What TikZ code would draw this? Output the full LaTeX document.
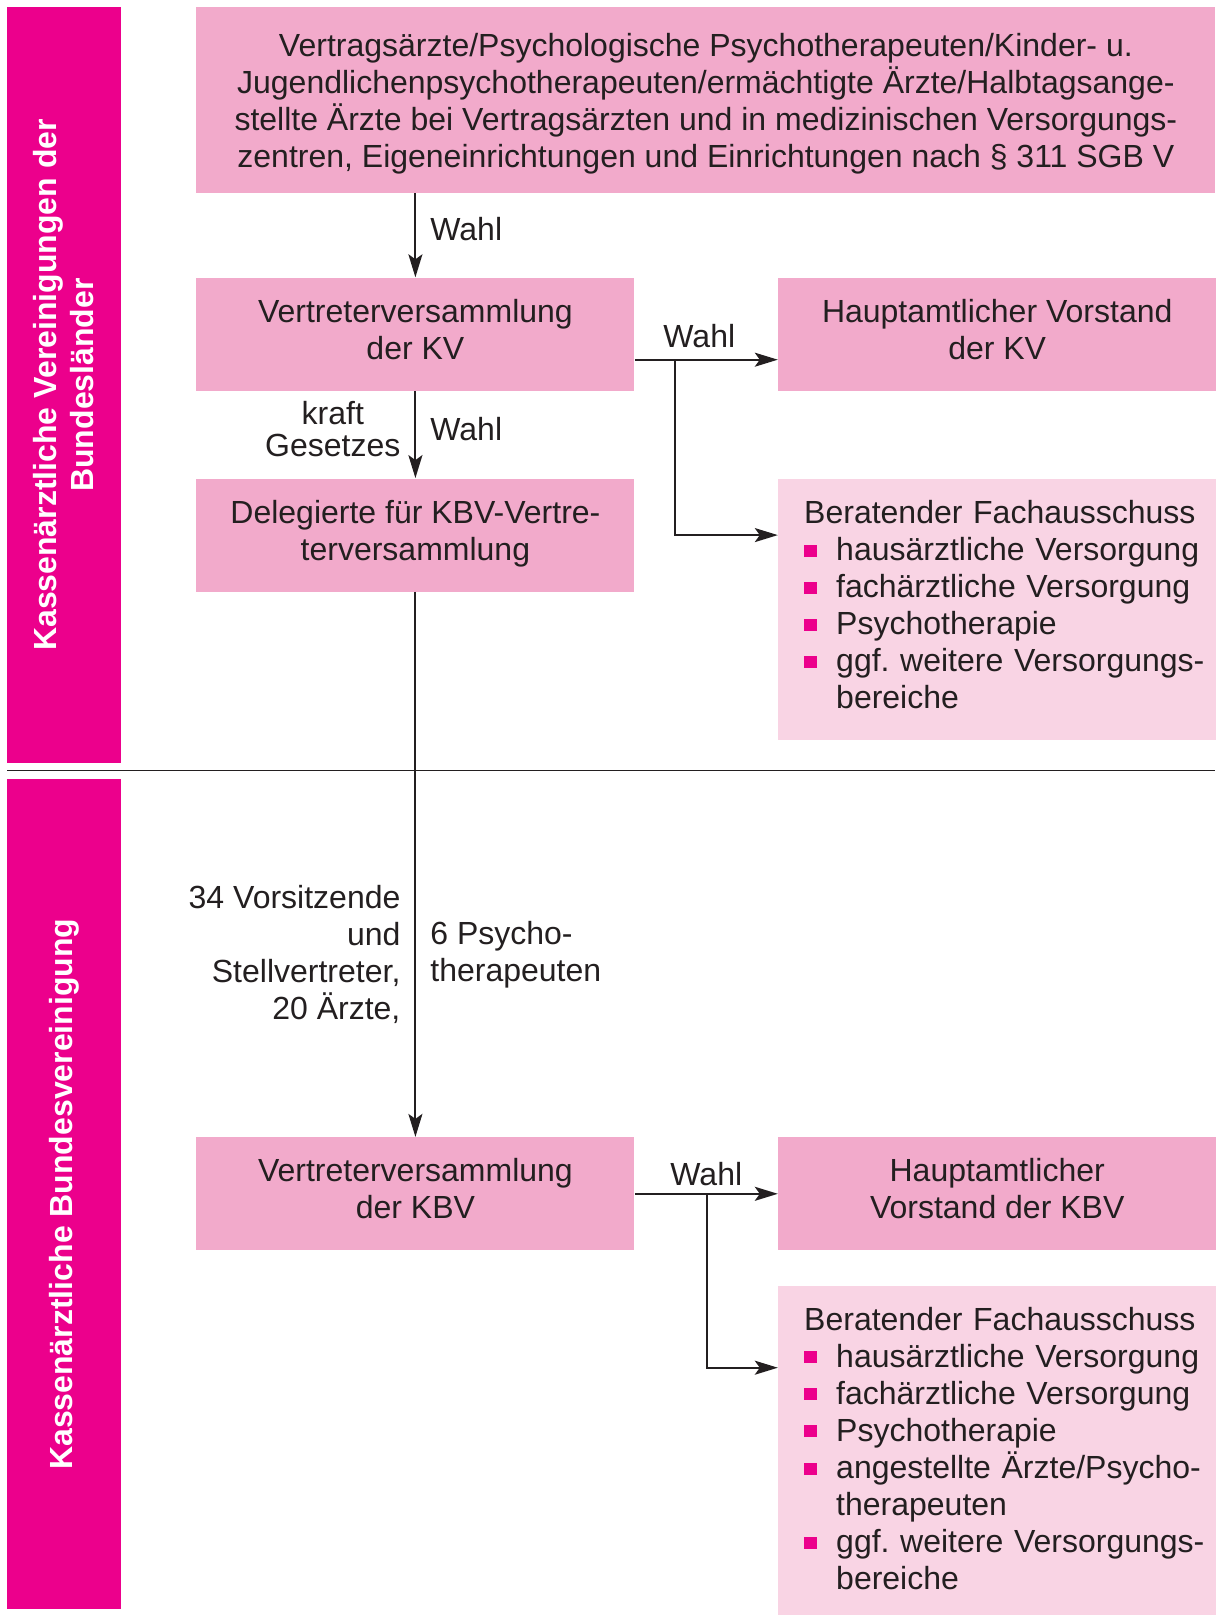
\documentclass[tikz,border=0pt]{standalone}
\usepackage{fontspec}
\setmainfont{Liberation Sans}
\usepackage{xcolor}
\usepackage{tikz}
\usetikzlibrary{positioning, arrows.meta}

\definecolor{kvmagenta}{RGB}{236,0,140}
\definecolor{kvpink}{RGB}{242,170,203}
\definecolor{kvlight}{RGB}{249,212,228}
\definecolor{kvtext}{RGB}{35,31,32}
\newcommand{\kvbullet}{\makebox[16pt][l]{\textcolor{kvmagenta}{\rule[1.8pt]{6.3pt}{6.3pt}}}}

\begin{document}
\begin{tikzpicture}[
    every node/.style={font=\fontsize{16}{18.5}\selectfont, text=kvtext},
    sidebar/.style={rectangle, fill=kvmagenta, text=white, font=\fontsize{16}{18.5}\selectfont\bfseries, rotate=90, align=center, minimum height=56.75pt, inner sep=0pt},
    pinkbox/.style={rectangle, fill=kvpink, align=center, minimum width=219pt, minimum height=56.5pt, inner sep=0pt, text depth=5pt},
    topbox/.style={pinkbox, minimum width=509.5pt, minimum height=92.75pt, text depth=0pt},
    listbox/.style={rectangle, fill=kvlight, align=left, text width=219pt, minimum height=130.5pt, inner sep=0pt},
    flow/.style={draw=kvtext, line width=1pt, -{Stealth[length=11.5pt, width=7pt, inset=2.5pt]}},
    lbl/.style={inner sep=7pt, align=center},
]
\useasboundingbox (0,0) rectangle (607.5pt,-807.5pt);

\node[sidebar, minimum width=378pt](kvbar) at (31.9pt,-192.5pt){Kassenärztliche Vereinigungen der\\Bundesländer};
\node[sidebar, minimum width=415.2pt](kbvbar) at (31.9pt,-597.1pt){Kassenärztliche Bundesvereinigung};
\coordinate (sepL) at (3.5pt,-385.3pt);
\coordinate (sepR) at (607.5pt,-385.3pt);
\draw[draw=kvtext, line width=0.7pt] (sepL) -- (sepR);

\node[topbox, anchor=north west](elect) at (98pt,-3.5pt){Vertragsärzte/Psychologische Psychotherapeuten/Kinder- u.\\Jugendlichenpsychotherapeuten/ermächtigte Ärzte/Halbtagsange-\\stellte Ärzte bei Vertragsärzten und in medizinischen Versorgungs-\\zentren, Eigeneinrichtungen und Einrichtungen nach § 311 SGB V};
\node[pinkbox](vkv)[below right = 42pt and 0pt of elect.south west]{Vertreterversammlung\\der KV};
\node[pinkbox](hvkv)[right = 71.5pt of vkv]{Hauptamtlicher Vorstand\\der KV};
\node[pinkbox](del)[below = 43.5pt of vkv]{Delegierte für KBV-Vertre-\\terversammlung};
\node[listbox](ber1)[below right = 43.5pt and 0pt of hvkv.south west]{\hspace*{13pt}\begin{tabular}{@{}l@{}l@{}}
\multicolumn{2}{@{}l@{}}{Beratender Fachausschuss}\\
\kvbullet & hausärztliche Versorgung\\
\kvbullet & fachärztliche Versorgung\\
\kvbullet & Psychotherapie\\
\kvbullet & ggf.\ weitere Versorgungs-\\
 & bereiche
\end{tabular}};
\node[pinkbox](vkbv)[below = 272.5pt of del]{Vertreterversammlung\\der KBV};
\node[pinkbox](hvkbv)[right = 71.5pt of vkbv]{Hauptamtlicher\\Vorstand der KBV};
\node[listbox, minimum height=166.5pt](ber2)[below right = 17.5pt and 0pt of hvkbv.south west]{\hspace*{13pt}\begin{tabular}{@{}l@{}l@{}}
\multicolumn{2}{@{}l@{}}{Beratender Fachausschuss}\\
\kvbullet & hausärztliche Versorgung\\
\kvbullet & fachärztliche Versorgung\\
\kvbullet & Psychotherapie\\
\kvbullet & angestellte Ärzte/Psycho-\\
 & therapeuten\\
\kvbullet & ggf.\ weitere Versorgungs-\\
 & bereiche
\end{tabular}};

\draw[flow] (elect.south -| vkv.north) -- node[lbl, right, pos=0.43]{Wahl} (vkv.north);
\draw[flow] (vkv.south) -- node[lbl, left, pos=0.44, font=\fontsize{16}{16}\selectfont]{kraft\\Gesetzes} node[lbl, right, pos=0.44]{Wahl} (del.north);
\draw[flow] (del.south) -- node[lbl, left, align=right, pos=0.665]{34 Vorsitzende\\und\\Stellvertreter,\\20 Ärzte,} node[lbl, right, align=left, pos=0.665]{6 Psycho-\\therapeuten} (vkbv.north);

\coordinate (kvsplit) at ([xshift=20pt, yshift=-12.75pt]vkv.east);
\draw[flow] ([yshift=-12.75pt]vkv.east) -- node[above, inner ysep=5.5pt, xshift=-3.5pt]{Wahl} ([yshift=-12.75pt]hvkv.west);
\draw[flow] (kvsplit) |- ([yshift=-28.5pt]ber1.north west);

\coordinate (kbvsplit) at ([xshift=36pt]vkbv.east);
\draw[flow] (vkbv.east) -- node[above, inner ysep=3.5pt]{Wahl} (hvkbv.west);
\draw[flow] (kbvsplit) |- ([yshift=-41pt]ber2.north west);
\end{tikzpicture}
\end{document}
